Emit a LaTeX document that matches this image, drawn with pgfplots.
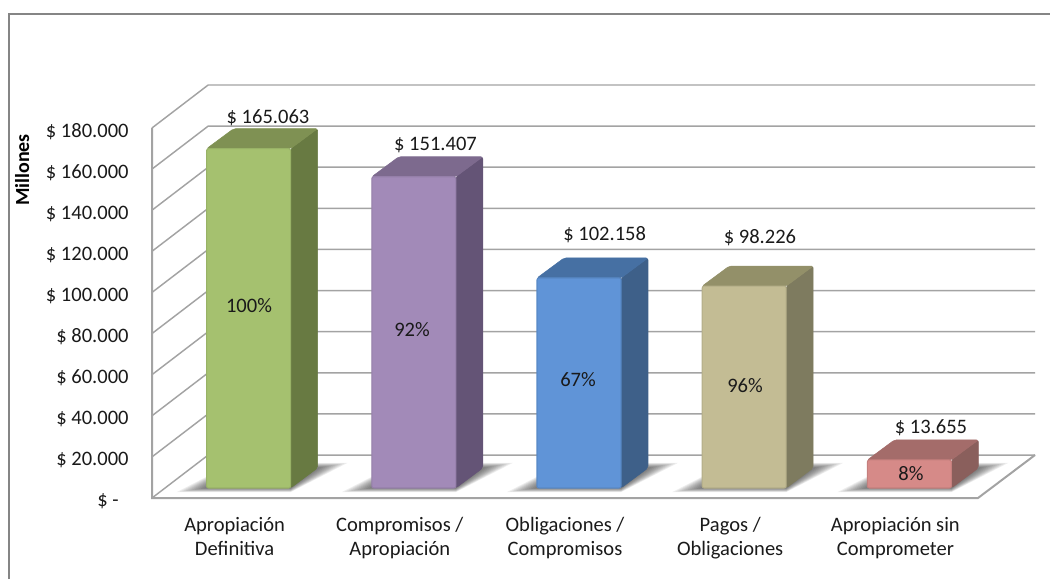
\documentclass[border=0pt]{standalone}
\usepackage{fontspec}
\setmainfont{Carlito}
\usepackage{pgfplots}
\pgfplotsset{compat=1.18}

\definecolor{gridc}{HTML}{A3A3A3}
\definecolor{framec}{HTML}{858585}
\definecolor{txt}{HTML}{1A1A1A}
\definecolor{fa}{HTML}{A5C16F}\definecolor{ta}{HTML}{7F9153}\definecolor{sa}{HTML}{687A42}
\definecolor{fb}{HTML}{A28AB8}\definecolor{tb}{HTML}{7D6A8E}\definecolor{sb}{HTML}{645476}
\definecolor{fc}{HTML}{6094D7}\definecolor{tc}{HTML}{4670A3}\definecolor{sc}{HTML}{3E6089}
\definecolor{fd}{HTML}{C3BC94}\definecolor{td}{HTML}{939069}\definecolor{sd}{HTML}{7E7B5F}
\definecolor{fe}{HTML}{D68A88}\definecolor{te}{HTML}{A46C6A}\definecolor{se}{HTML}{8A5F5C}

% half width, base offset and depth of a bar, in axis units
\def\bhw{0.2542}
\def\bxo{0.0847}
\def\byo{4.86}
\def\bdx{0.1634}
\def\bdy{9.73}

% wall lines: front edge, diagonal, back wall
\newcommand{\wallline}[1]{%
  \pgfmathsetmacro\yb{#1+20.9}%
  \edef\temp{\noexpand\addplot[gridc,line width=1.1pt] coordinates {(-0.5,#1) (-0.16,\yb) (4.845,\yb)};}%
  \temp
}

% soft shadow on the floor, stacked translucent polygons
\newcommand{\floorshadow}[1]{%
  \pgfplotsinvokeforeach{30,27,24,21,18,15,12,9,6,3}{%
    \pgfmathsetmacro\e{##1/165.2}%
    \pgfmathsetmacro\xl{#1+\bxo-\bhw}%
    \pgfmathsetmacro\xr{#1+\bxo+\bhw}%
    \pgfmathsetmacro\xa{\xl-\e}%
    \pgfmathsetmacro\xb{\xr+\bdx+\e}%
    \pgfmathsetmacro\xc{\xl+\bdx}%
    \pgfmathsetmacro\ya{\byo-##1/15}%
    \pgfmathsetmacro\yb{\byo+\bdy+##1/12}%
    \edef\temp{\noexpand\addplot[fill=black,fill opacity=0.065,draw=none] coordinates {(\xa,\ya) (\xr,\ya) (\xb,\yb) (\xc,\yb) (\xa,\ya)};}%
    \temp
  }%
}

% index, value, front, top, side
\newcommand{\solidbar}[5]{%
  \pgfmathsetmacro\xl{#1+\bxo-\bhw}%
  \pgfmathsetmacro\xr{#1+\bxo+\bhw}%
  \pgfmathsetmacro\xm{\xl+\bdx}%
  \pgfmathsetmacro\xn{\xr+\bdx}%
  \pgfmathsetmacro\ya{\byo}%
  \pgfmathsetmacro\yb{#2+\byo}%
  \pgfmathsetmacro\yc{\ya+\bdy}%
  \pgfmathsetmacro\yd{\yb+\bdy}%
  \edef\temp{%
    \noexpand\addplot[fill=#5,draw=#5,line width=0.4pt,rounded corners=1.5pt] coordinates {(\xr,\ya) (\xn,\yc) (\xn,\yd) (\xr,\yb)} --cycle;
    \noexpand\addplot[fill=#4,draw=#4,line width=0.4pt,rounded corners=1.5pt] coordinates {(\xl,\yb) (\xr,\yb) (\xn,\yd) (\xm,\yd)} --cycle;
    \noexpand\addplot[fill=#3,draw=#3!92!black,line width=0.8pt,rounded corners=1.5pt] coordinates {(\xl,\ya) (\xr,\ya) (\xr,\yb) (\xl,\yb)} --cycle;
  }%
  \temp
}

\begin{document}
\begin{tikzpicture}[x=0.75pt,y=0.75pt,font=\fontsize{15.4}{18}\selectfont]
\path[use as bounding box] (0,0) rectangle (1050,579);
\draw[framec,line width=1.5pt] (9,0) -- (9,565) -- (1050,565);
\begin{axis}[
    at={(114pt,60.75pt)},
    anchor=south west,
    scale only axis,
    width=662.25pt,
    height=309.75pt,
    xmin=-0.5, xmax=4.845,
    ymin=0, ymax=200.9,
    clip=false,
    axis line style={draw=none},
    major tick length=0pt,
    xtick={0,1,2,3,4},
    xticklabels={{Apropiación\\Definitiva},{Compromisos /\\Apropiación},{Obligaciones /\\Compromisos},{Pagos /\\Obligaciones},{Apropiación sin\\Comprometer}},
    xticklabel style={align=center,text=txt,yshift=-11pt},
    ytick={0,20,40,60,80,100,120,140,160,180},
    yticklabels={\$ -\rule{7.5pt}{0pt},\$ 20.000,\$ 40.000,\$ 60.000,\$ 80.000,\$ 100.000,\$ 120.000,\$ 140.000,\$ 160.000,\$ 180.000},
    yticklabel style={text=txt,xshift=-14pt,yshift=-2.6pt},
    ylabel={\fontsize{15}{18}\selectfont\bfseries Millones},
    every axis y label/.style={at={(rel axis cs:-0.147,0.794)},rotate=90,anchor=center,text=black},
]
\pgfplotsinvokeforeach{0,20,40,60,80,100,120,140,160,180}{\wallline{#1}}
\addplot[gridc,line width=1.5pt] coordinates {(-0.5,180) (-0.5,0) (4.5,0) (4.845,20.9)};

\floorshadow{0}
\floorshadow{1}
\floorshadow{2}
\floorshadow{3}
\floorshadow{4}

\solidbar{0}{165.063}{fa}{ta}{sa}
\solidbar{1}{151.407}{fb}{tb}{sb}
\solidbar{2}{102.158}{fc}{tc}{sc}
\solidbar{3}{98.226}{fd}{td}{sd}
\solidbar{4}{13.655}{fe}{te}{se}

\node[text=txt] at (axis cs:0.202,185.0) {\$ 165.063};
\node[text=txt] at (axis cs:1.216,171.7) {\$ 151.407};
\node[text=txt] at (axis cs:2.240,127.9) {\$ 102.158};
\node[text=txt] at (axis cs:3.180,126.5) {\$ 98.226};
\node[text=txt] at (axis cs:4.215,34.0) {\$ 13.655};

\node[text=txt] at (axis cs:0.087,93.4) {100\%};
\node[text=txt] at (axis cs:1.074,81.7) {92\%};
\node[text=txt] at (axis cs:2.079,57.4) {67\%};
\node[text=txt] at (axis cs:3.090,54.5) {96\%};
\node[text=txt] at (axis cs:4.094,11.7) {8\%};
\end{axis}
\end{tikzpicture}
\end{document}
